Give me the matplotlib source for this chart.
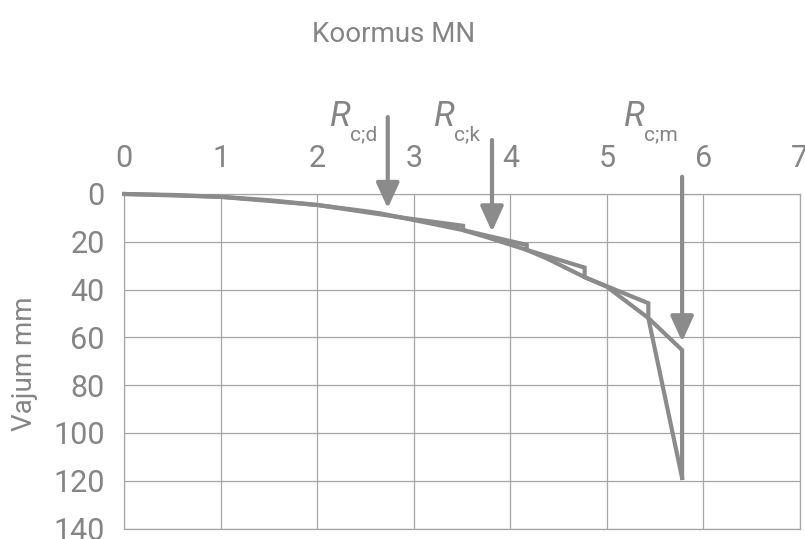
import matplotlib
matplotlib.use("Agg")
import matplotlib.pyplot as plt
import numpy as np

# load (MN) vs settlement (mm), fitted curve ending in the failure drop
curve_load = [0.0, 0.5, 1.0, 1.5, 2.0, 2.5, 2.65, 3.06, 3.51, 3.79, 4.17, 4.38, 4.77, 5.0, 5.43, 5.78, 5.78]
curve_settle = [0.0, 0.4, 1.2, 2.6, 4.6, 7.2, 8.1, 11.4, 15.1, 18.5, 23.4, 27.0, 34.8, 38.8, 51.9, 65.3, 118.8]

# measured load steps (load held while settlement grows)
step_load = [0.0, 1.0, 2.0, 2.9, 3.51, 3.51, 4.17, 4.17, 4.77, 4.77, 5.43, 5.43, 5.78]
step_settle = [0.0, 1.2, 4.6, 10.0, 13.3, 15.1, 21.3, 23.4, 30.8, 34.8, 45.7, 51.9, 118.8]

# resistance markers: name, load, arrow tail, arrow tip (mm)
r_names = ["c;d", "c;k", "c;m"]
r_load = [2.73, 3.81, 5.78]
r_tail = [-32.2, -22.6, -7.2]
r_tip = [6.0, 15.8, 61.8]

x_ticks = [0, 1, 2, 3, 4, 5, 6, 7]
y_ticks = [0, 20, 40, 60, 80, 100, 120, 140]

LINE = "#8b8b8b"
GRID = "#a6a6a6"
TEXT = "#858585"
FONT = "Roboto"

fig = plt.figure(figsize=(8.05, 5.39), dpi=100)
ax = fig.add_axes([0.1544, 0.0193, 0.8392, 0.6208])

ax.set_xlim(0, 7)
ax.set_ylim(140, 0)
ax.set_xticks(x_ticks)
ax.set_yticks(y_ticks)
ax.xaxis.tick_top()
ax.tick_params(axis="both", length=0, colors=TEXT)
ax.tick_params(axis="x", pad=15)
ax.tick_params(axis="y", pad=14)
for lab in ax.get_xticklabels() + ax.get_yticklabels():
    lab.set_fontfamily(FONT)
    lab.set_fontweight("normal")
    lab.set_fontsize(22)
ax.grid(True, color=GRID, lw=0.9)
for s in ax.spines.values():
    s.set_color(GRID)
    s.set_linewidth(0.9)

ax.plot(curve_load, curve_settle, color=LINE, lw=3.0, solid_joinstyle="miter", clip_on=False, zorder=3)
ax.plot(step_load, step_settle, color=LINE, lw=3.0, solid_joinstyle="miter", clip_on=False, zorder=3)

for name, x, y0, y1 in zip(r_names, r_load, r_tail, r_tip):
    ax.annotate(
        "", xy=(x, y1), xytext=(x, y0), annotation_clip=False,
        arrowprops=dict(arrowstyle="-|>,head_length=0.55,head_width=0.25",
                        mutation_scale=28, color=LINE, lw=3.0,
                        shrinkA=0, shrinkB=0),
        zorder=4,
    )
    ax.text(x - 0.60, -28.3, "R", fontsize=25, fontstyle="italic",
            family=FONT, color=TEXT, ha="left", va="baseline")
    ax.text(x - 0.39, -22.6, name, fontsize=15,
            family=FONT, color=TEXT, ha="left", va="baseline")

fig.text(0.489, 0.922, "Koormus MN", fontsize=20, family=FONT, color=TEXT,
         ha="center", va="baseline")
fig.text(0.031, 0.325, "Vajum mm", fontsize=20, family=FONT, color=TEXT,
         rotation=90, ha="center", va="center")

fig.savefig("out.png", dpi=100)
